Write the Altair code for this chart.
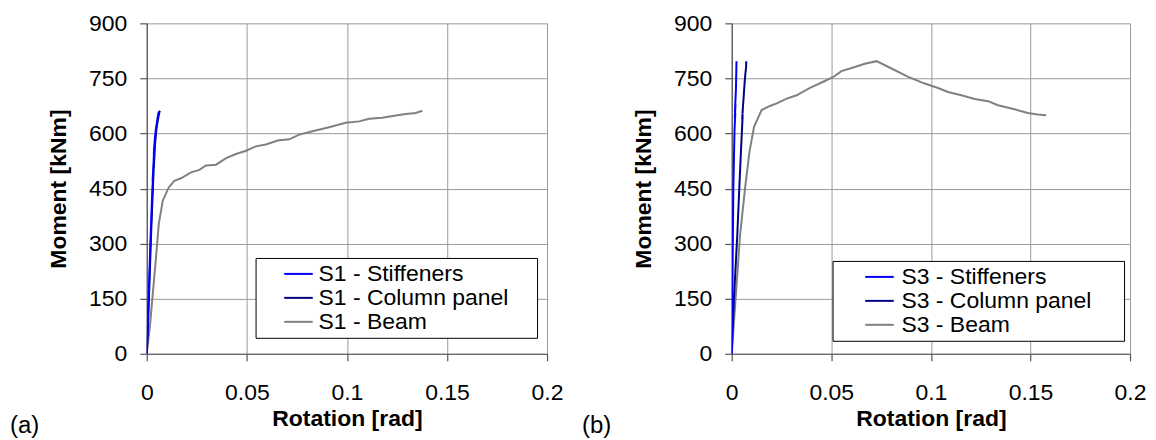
import altair as alt
import pandas as pd

# ---------------- data ----------------
x_ticks = [0, 0.05, 0.1, 0.15, 0.2]
y_ticks = [0, 150, 300, 450, 600, 750, 900]

s1_names = ["S1 - Stiffeners", "S1 - Column panel", "S1 - Beam"]
s3_names = ["S3 - Stiffeners", "S3 - Column panel", "S3 - Beam"]
series_colors = ["#0000FF", "#000080", "#808080"]

s1_stiff_rot = [0, 0.0004, 0.0012, 0.0020, 0.0026, 0.0031, 0.0029, 0.0034, 0.0037, 0.0035, 0.0041, 0.0046, 0.0044, 0.0052, 0.0058, 0.0062]
s1_stiff_m = [0, 60, 200, 330, 420, 480, 470, 520, 560, 545, 590, 615, 605, 635, 655, 660]

s1_panel_rot = [0, 0.0005, 0.0014, 0.0022, 0.0029, 0.0034, 0.0032, 0.0038, 0.0041, 0.0039, 0.0046, 0.0051, 0.0049, 0.0058, 0.0064, 0.0066]
s1_panel_m = [0, 60, 200, 330, 430, 495, 480, 535, 570, 555, 600, 625, 615, 645, 660, 662]

s1_beam_rot = [0, 0.0017, 0.0030, 0.0045, 0.0060, 0.0080, 0.0110, 0.0138, 0.0171, 0.0221, 0.0263,
               0.0296, 0.0346, 0.0396, 0.0446, 0.0496, 0.0545, 0.0595, 0.0654, 0.0712, 0.0762,
               0.0828, 0.0911, 0.0994, 0.1061, 0.1111, 0.1177, 0.1244, 0.1294, 0.1344, 0.1377]
s1_beam_m = [0, 82, 163, 255, 353, 417, 453, 471, 478, 494, 501,
             513, 515, 533, 544, 553, 565, 570, 581, 584, 597,
             606, 617, 629, 633, 640, 643, 649, 653, 656, 662]

s3_stiff_rot = [0, 0.0003, 0.0008, 0.0014, 0.0018, 0.0015, 0.0019, 0.0016, 0.0021, 0.0023, 0.0024]
s3_stiff_m = [0, 150, 451, 610, 655, 640, 680, 660, 720, 770, 797]

s3_panel_rot = [0, 0.0012, 0.0028, 0.0038, 0.0047, 0.0055, 0.0052, 0.0056, 0.0054, 0.0060, 0.0065, 0.0069, 0.0072, 0.0073]
s3_panel_m = [0, 161, 324, 451, 560, 650, 638, 668, 655, 700, 741, 765, 780, 797]

s3_beam_rot = [0, 0.0042, 0.0067, 0.0089, 0.0112, 0.0150, 0.0192, 0.0226, 0.0276, 0.0326,
               0.0393, 0.0460, 0.0510, 0.0551, 0.0618, 0.0668, 0.0727, 0.0802, 0.0886, 0.0969,
               0.1036, 0.1086, 0.1153, 0.1220, 0.1287, 0.1337, 0.1420, 0.1487, 0.1537, 0.1579]
s3_beam_m = [0, 324, 451, 550, 618, 664, 675, 682, 695, 704,
             724, 741, 754, 770, 781, 790, 797, 777, 754, 736,
             724, 713, 704, 694, 688, 677, 666, 656, 652, 650]

FONT = "Liberation Sans"


def frame(names, rots, ms):
    rows = []
    # draw order: beam first, then column panel, then stiffeners on top
    for k in [2, 1, 0]:
        for i, (r, m) in enumerate(zip(rots[k], ms[k])):
            rows.append({"series": names[k], "rot": r, "M": m, "i": i})
    return pd.DataFrame(rows)


def panel(names, rots, ms, tag, tag_dx, lx, ly, sym_off, lab_off, right_pad, w, h):
    df = frame(names, rots, ms)
    return alt.Chart(df).mark_line(strokeWidth=2, clip=True).encode(
        x=alt.X("rot:Q",
                scale=alt.Scale(domain=[0, 0.2], nice=False),
                axis=alt.Axis(values=x_ticks, format="~g", title="Rotation [rad]",
                              labelFlush=False)),
        y=alt.Y("M:Q",
                scale=alt.Scale(domain=[0, 900], nice=False),
                axis=alt.Axis(values=y_ticks, format="d", title="Moment [kNm]")),
        color=alt.Color("series:N",
                        scale=alt.Scale(domain=names, range=series_colors),
                        legend=alt.Legend(
                            orient="none", legendX=lx, legendY=ly,
                            title="\u00a0", titleOrient="right", titleFontSize=1,
                            titlePadding=right_pad,
                            symbolType="M-1.3,0H1.3", symbolSize=484,
                            symbolStrokeWidth=2, symbolOffset=sym_off,
                            labelFont=FONT, labelFontSize=23, labelColor="black",
                            labelOffset=lab_off, labelLimit=600, padding=4, rowPadding=0,
                            strokeColor="black", fillColor="white")),
        order=alt.Order("i:Q"),
    ).properties(
        width=w, height=h,
        title=alt.TitleParams(tag, orient="bottom", anchor="start", frame="group",
                              dx=tag_dx, dy=-21, fontSize=24, fontWeight="normal",
                              font=FONT, color="black"),
    )


left = panel(s1_names, [s1_stiff_rot, s1_panel_rot, s1_beam_rot],
             [s1_stiff_m, s1_panel_m, s1_beam_m], "(a)", -137, 109, 235,
             27, 8, 25, 401, 331)
right = panel(s3_names, [s3_stiff_rot, s3_panel_rot, s3_beam_rot],
              [s3_stiff_m, s3_panel_m, s3_beam_m], "(b)", -150, 101, 238,
              31, 10, 29, 399, 331)

chart = alt.hconcat(left, right, spacing=185, bounds="flush").resolve_scale(
    color="independent"
).properties(
    padding={"left": 2, "top": 4, "right": 2, "bottom": 0}
).configure_axis(
    labelFont=FONT, labelFontSize=23, labelColor="black",
    titleFont=FONT, titleFontSize=23, titleFontWeight="bold", titleColor="black",
    gridColor="#9a9a9a", gridWidth=1, domainColor="#555555", domainWidth=1.2,
    tickColor="#555555", tickSize=7, tickWidth=1.2,
).configure_axisX(
    labelPadding=21, titlePadding=3,
).configure_axisY(
    labelPadding=13, titlePadding=18,
).configure_view(strokeOpacity=0)

chart.save("out.html", embed_options={"renderer": "svg", "actions": False})
